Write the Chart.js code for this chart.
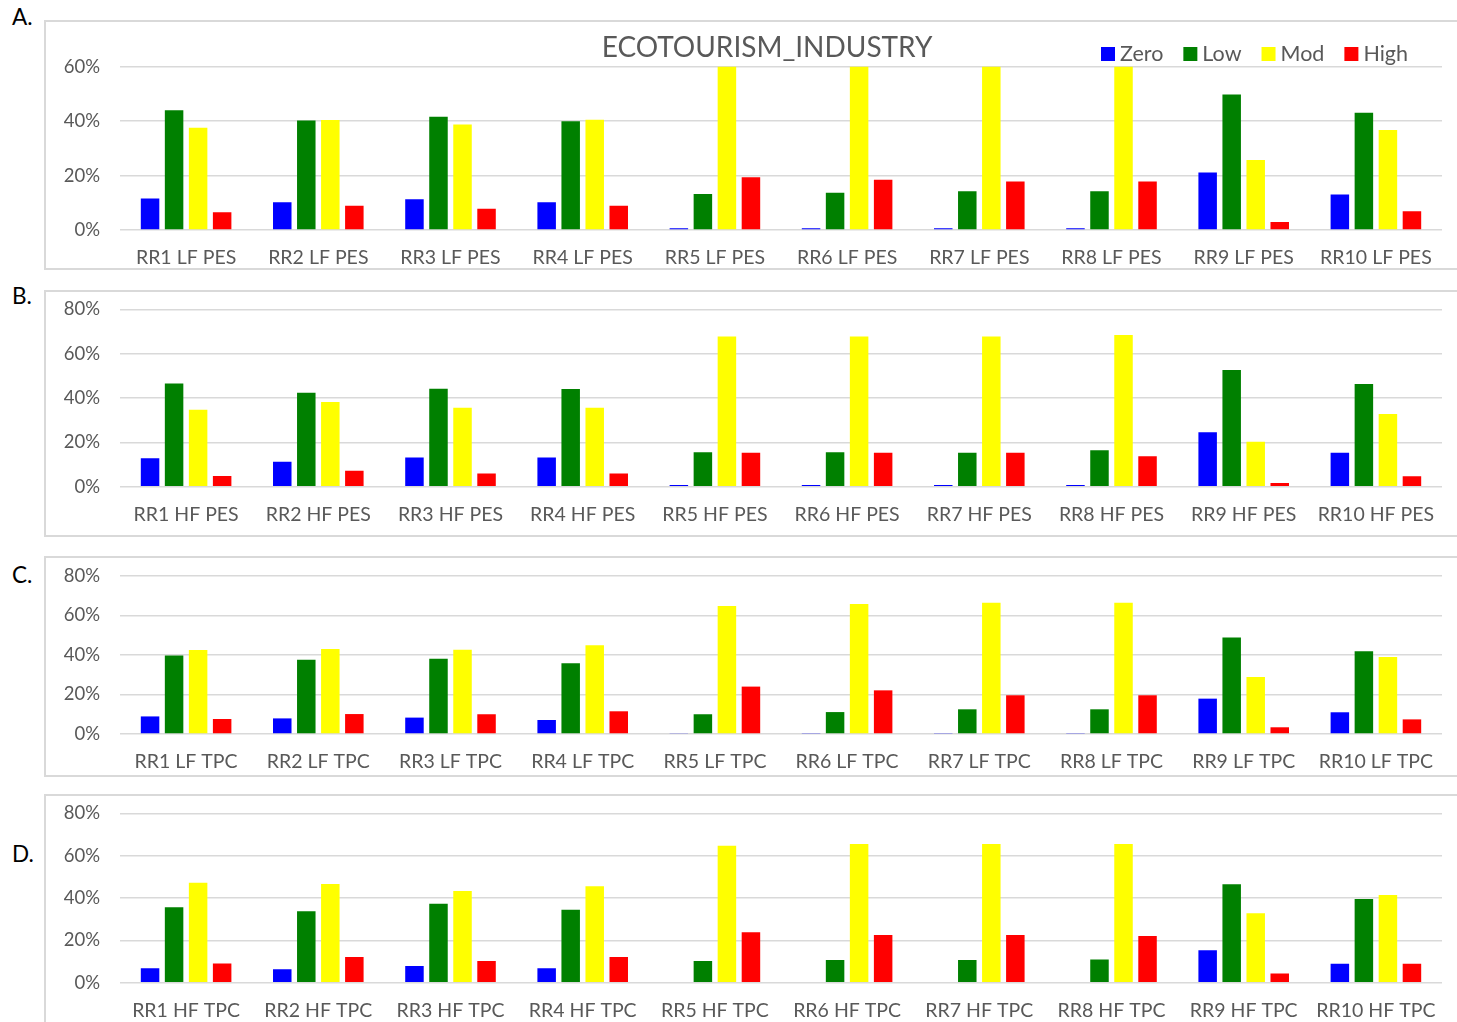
<!DOCTYPE html>
<html>
<head>
<meta charset="utf-8">
<title>Ecotourism industry</title>
<script src="https://cdn.jsdelivr.net/npm/chart.js@4.4.1/dist/chart.umd.min.js"></script>
<style>
  body { margin: 0; width: 1457px; height: 1022px; overflow: hidden; position: relative; background: #fff; font-family: Lato, sans-serif; }
  .panel { position: absolute; left: 44px; width: 1420px; border: 2px solid #d9d9d9; box-sizing: border-box; background: #fff; }
  .box { position: absolute; left: 0; top: 0; right: 0; bottom: 0; }
  .tag { position: absolute; left: 12px; font-size: 22.5px; line-height: 1; color: #000; }
</style>
</head>
<body>
<div class="tag" style="top:6px">A.</div>
<div class="tag" style="top:285px">B.</div>
<div class="tag" style="top:564px">C.</div>
<div class="tag" style="top:843px">D.</div>

<div class="panel" style="top:20px;height:250px"><div class="box"><canvas id="chartA"></canvas></div></div>
<div class="panel" style="top:290px;height:247px"><div class="box"><canvas id="chartB"></canvas></div></div>
<div class="panel" style="top:556px;height:221px"><div class="box"><canvas id="chartC"></canvas></div></div>
<div class="panel" style="top:794px;height:240px"><div class="box"><canvas id="chartD"></canvas></div></div>

<script>
const regions = ["RR1","RR2","RR3","RR4","RR5","RR6","RR7","RR8","RR9","RR10"];
const levels = ["Zero","Low","Mod","High"];
const levelColors = ["#0000ff","#008000","#ffff00","#ff0000"];

// A. LF PES (percent)
const zeroA = [11.6,10.2,11.3,10.2,0.6,0.6,0.6,0.6,21.1,13.0];
const lowA  = [44.0,40.2,41.6,40.0,13.2,13.7,14.2,14.2,49.8,43.1];
const modA  = [37.6,40.4,38.8,40.5,67.0,67.0,67.0,67.5,25.7,36.7];
const highA = [6.5,8.9,7.8,8.9,19.4,18.5,17.8,17.8,2.9,6.9];

// B. HF PES
const zeroB = [12.8,11.3,13.2,13.2,0.75,0.75,0.75,0.75,24.5,15.3];
const lowB  = [46.5,42.4,44.2,44.1,15.5,15.5,15.3,16.4,52.6,46.3];
const modB  = [34.7,38.2,35.6,35.6,67.7,67.7,67.7,68.4,20.3,32.8];
const highB = [4.8,7.2,6.0,6.0,15.3,15.3,15.3,13.7,1.65,4.7];

// C. LF TPC
const zeroC = [8.9,7.9,8.3,7.1,0.3,0.5,0.5,0.5,17.9,11.0];
const lowC  = [39.8,37.6,38.1,35.8,10.0,11.1,12.5,12.5,48.8,41.9];
const modC  = [42.5,43.0,42.7,44.9,64.8,65.8,66.5,66.5,28.9,39.0];
const highC = [7.6,10.1,10.0,11.5,24.0,22.1,19.6,19.6,3.4,7.4];

// D. HF TPC
const zeroD = [6.8,6.3,7.9,6.8,0.3,0.3,0.3,0.3,15.3,9.0];
const lowD  = [35.6,33.7,37.3,34.5,10.2,10.7,10.7,11.0,46.5,39.5];
const modD  = [47.2,46.6,43.3,45.5,64.7,65.5,65.5,65.5,32.8,41.4];
const highD = [9.1,12.1,10.2,12.1,23.8,22.5,22.5,22.0,4.3,9.0];

Chart.defaults.font.family = "Lato, 'Open Sans', sans-serif";
Chart.defaults.color = "#595959";

// title + legend sit on the same row in the top panel, so draw them by hand
const headerPlugin = {
  id: "header",
  afterDraw(chart, args, opts) {
    if (!opts.show) return;
    const ctx = chart.ctx;
    ctx.save();
    ctx.fillStyle = "#595959";
    ctx.font = "28px Lato";
    ctx.textAlign = "center";
    ctx.textBaseline = "alphabetic";
    ctx.fillText(opts.title, 721, 35);

    ctx.font = "21.5px Lato";
    ctx.textAlign = "left";
    let x = 1055;
    chart.data.datasets.forEach(ds => {
      ctx.fillStyle = ds.backgroundColor;
      ctx.fillRect(x, 25, 14, 14);
      ctx.fillStyle = "#595959";
      ctx.fillText(ds.label, x + 19, 39);
      x += 19 + ctx.measureText(ds.label).width + 20;
    });
    ctx.restore();
  }
};

function makeChart(id, suffix, series, yMax, topPad, bottomSpace, header) {
  const ctx = document.getElementById(id);
  return new Chart(ctx, {
    type: "bar",
    data: {
      labels: regions.map(r => r + " " + suffix),
      datasets: series.map((vals, i) => ({
        label: levels[i],
        data: vals,
        backgroundColor: levelColors[i],
        borderWidth: 0,
        clip: 0,
        categoryPercentage: 0.727,
        barPercentage: 0.77
      }))
    },
    options: {
      responsive: true,
      maintainAspectRatio: false,
      animation: false,
      layout: { padding: { top: topPad, right: 20, left: 0, bottom: 0 } },
      plugins: {
        legend: { display: false },
        tooltip: { enabled: false },
        header: { show: header, title: "ECOTOURISM_INDUSTRY" }
      },
      scales: {
        y: {
          min: 0,
          max: yMax,
          ticks: { stepSize: 20, padding: 20, color: "#595959", font: { size: 18.5 }, callback: v => v + "%" },
          grid: { color: "#d9d9d9", lineWidth: 1.5, drawTicks: false },
          border: { display: false },
          afterFit: s => { s.width = 74; s.paddingTop = 0; s.paddingBottom = 0; }
        },
        x: {
          grid: { display: false, drawTicks: false },
          border: { display: false },
          ticks: { color: "#595959", font: { size: 19.5 }, padding: 16, maxRotation: 0, autoSkip: false },
          afterFit: s => { s.height = bottomSpace; s.paddingLeft = 0; s.paddingRight = 0; }
        }
      }
    },
    plugins: [headerPlugin]
  });
}

const chartA = makeChart("chartA", "LF PES", [zeroA, lowA, modA, highA], 60, 44.7, 38, true);
const chartB = makeChart("chartB", "HF PES", [zeroB, lowB, modB, highB], 80, 17.3, 48.3, false);
const chartC = makeChart("chartC", "LF TPC", [zeroC, lowC, modC, highC], 80, 18, 41, false);
const chartD = makeChart("chartD", "HF TPC", [zeroD, lowD, modD, highD], 80, 17.3, 49.3, false);
</script>
</body>
</html>
